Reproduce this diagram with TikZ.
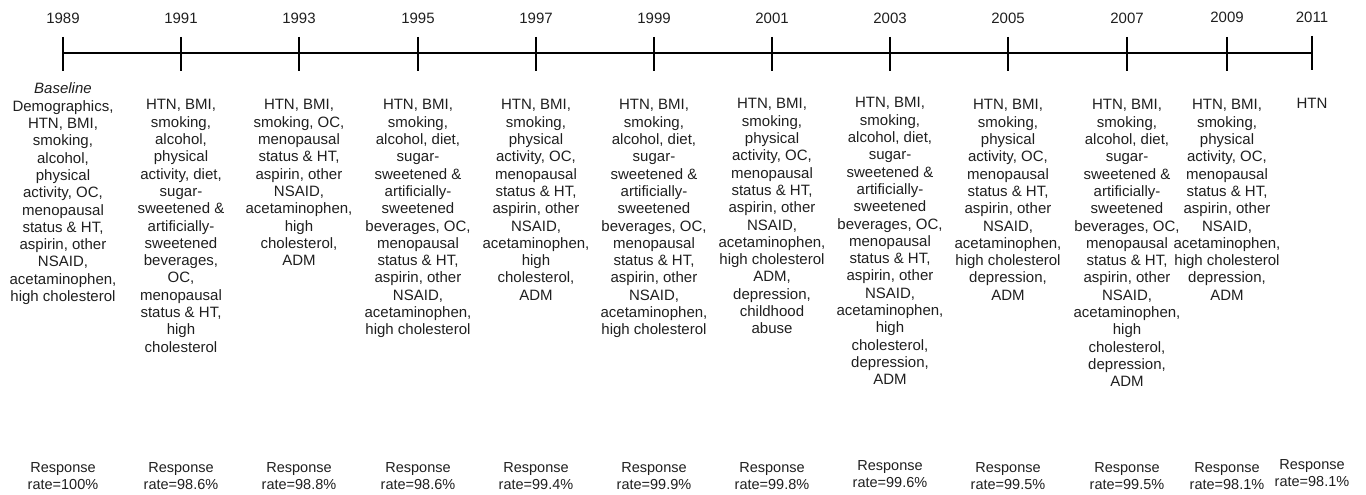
\documentclass[tikz,border=0pt]{standalone}
\usepackage{fontspec}
\setmainfont{Liberation Sans}
\begin{document}
\begin{tikzpicture}[x=1pt,y=-1pt,line width=1.2pt,
    year/.style={anchor=base,inner sep=0pt,text=black!88,font=\fontsize{15}{17.3}\selectfont},
    items/.style={anchor=north,inner sep=0pt,align=center,text=black!88,font=\fontsize{15}{17.3}\selectfont},
    rate/.style={anchor=north,inner sep=0pt,align=center,text=black!88,font=\fontsize{14.5}{17}\selectfont}]
\useasboundingbox (0,0) rectangle (1366,495);
\draw (63,53) coordinate (t89) ++(0,-16) -- ++(0,34);
\draw (181,53) coordinate (t91) ++(0,-16) -- ++(0,34);
\draw (299,53) coordinate (t93) ++(0,-16) -- ++(0,34);
\draw (418,53) coordinate (t95) ++(0,-16) -- ++(0,34);
\draw (536,53) coordinate (t97) ++(0,-16) -- ++(0,34);
\draw (654,53) coordinate (t99) ++(0,-16) -- ++(0,34);
\draw (772,53) coordinate (t01) ++(0,-16) -- ++(0,34);
\draw (890,53) coordinate (t03) ++(0,-16) -- ++(0,34);
\draw (1008,53) coordinate (t05) ++(0,-16) -- ++(0,34);
\draw (1127,53) coordinate (t07) ++(0,-16) -- ++(0,34);
\draw (1227,53) coordinate (t09) ++(0,-16) -- ++(0,34);
\draw (1312,53) coordinate (t11) ++(0,-17) -- ++(0,34);
\draw (t89) -- (t11);
\node[year] (y89) at (63,23.4) {1989};
\node[year] (y91) at (181,23.4) {1991};
\node[year] (y93) at (299,23.4) {1993};
\node[year] (y95) at (418,23.4) {1995};
\node[year] (y97) at (536,23.4) {1997};
\node[year] (y99) at (654,23.4) {1999};
\node[year] (y01) at (772,23.4) {2001};
\node[year] (y03) at (890,23.4) {2003};
\node[year] (y05) at (1008,23.4) {2005};
\node[year] (y07) at (1127,23.4) {2007};
\node[year] (y09) at (1227,22.4) {2009};
\node[year] (y11) at (1312,22.4) {2011};
\node[items] (l89) at (63,82.5) {\textit{Baseline}\\Demographics,\\HTN, BMI,\\smoking,\\alcohol,\\physical\\activity, OC,\\menopausal\\status \& HT,\\aspirin, other\\NSAID,\\acetaminophen,\\high cholesterol};
\node[items] (l91) at (181,99) {HTN, BMI,\\smoking,\\alcohol,\\physical\\activity, diet,\\sugar-\\sweetened \&\\artificially-\\sweetened\\beverages,\\OC,\\menopausal\\status \& HT,\\high\\cholesterol};
\node[items] (l93) at (299,99) {HTN, BMI,\\smoking, OC,\\menopausal\\status \& HT,\\aspirin, other\\NSAID,\\acetaminophen,\\high\\cholesterol,\\ADM};
\node[items] (l95) at (418,99) {HTN, BMI,\\smoking,\\alcohol, diet,\\sugar-\\sweetened \&\\artificially-\\sweetened\\beverages, OC,\\menopausal\\status \& HT,\\aspirin, other\\NSAID,\\acetaminophen,\\high cholesterol};
\node[items] (l97) at (536,99) {HTN, BMI,\\smoking,\\physical\\activity, OC,\\menopausal\\status \& HT,\\aspirin, other\\NSAID,\\acetaminophen,\\high\\cholesterol,\\ADM};
\node[items] (l99) at (654,99) {HTN, BMI,\\smoking,\\alcohol, diet,\\sugar-\\sweetened \&\\artificially-\\sweetened\\beverages, OC,\\menopausal\\status \& HT,\\aspirin, other\\NSAID,\\acetaminophen,\\high cholesterol};
\node[items] (l01) at (772,98) {HTN, BMI,\\smoking,\\physical\\activity, OC,\\menopausal\\status \& HT,\\aspirin, other\\NSAID,\\acetaminophen,\\high cholesterol\\ADM,\\depression,\\childhood\\abuse};
\node[items] (l03) at (890,97) {HTN, BMI,\\smoking,\\alcohol, diet,\\sugar-\\sweetened \&\\artificially-\\sweetened\\beverages, OC,\\menopausal\\status \& HT,\\aspirin, other\\NSAID,\\acetaminophen,\\high\\cholesterol,\\depression,\\ADM};
\node[items] (l05) at (1008,99) {HTN, BMI,\\smoking,\\physical\\activity, OC,\\menopausal\\status \& HT,\\aspirin, other\\NSAID,\\acetaminophen,\\high cholesterol\\depression,\\ADM};
\node[items] (l07) at (1127,99) {HTN, BMI,\\smoking,\\alcohol, diet,\\sugar-\\sweetened \&\\artificially-\\sweetened\\beverages, OC,\\menopausal\\status \& HT,\\aspirin, other\\NSAID,\\acetaminophen,\\high\\cholesterol,\\depression,\\ADM};
\node[items] (l09) at (1227,99) {HTN, BMI,\\smoking,\\physical\\activity, OC,\\menopausal\\status \& HT,\\aspirin, other\\NSAID,\\acetaminophen,\\high cholesterol\\depression,\\ADM};
\node[items] (l11) at (1312,98) {HTN};
\node[rate] (r89) at (63,462) {Response\\rate=100\%};
\node[rate] (r91) at (181,462) {Response\\rate=98.6\%};
\node[rate] (r93) at (299,462) {Response\\rate=98.8\%};
\node[rate] (r95) at (418,462) {Response\\rate=98.6\%};
\node[rate] (r97) at (536,462) {Response\\rate=99.4\%};
\node[rate] (r99) at (654,462) {Response\\rate=99.9\%};
\node[rate] (r01) at (772,462) {Response\\rate=99.8\%};
\node[rate] (r03) at (890,460) {Response\\rate=99.6\%};
\node[rate] (r05) at (1008,462) {Response\\rate=99.5\%};
\node[rate] (r07) at (1127,462) {Response\\rate=99.5\%};
\node[rate] (r09) at (1227,462) {Response\\rate=98.1\%};
\node[rate] (r11) at (1312,459) {Response\\rate=98.1\%};
\end{tikzpicture}
\end{document}
